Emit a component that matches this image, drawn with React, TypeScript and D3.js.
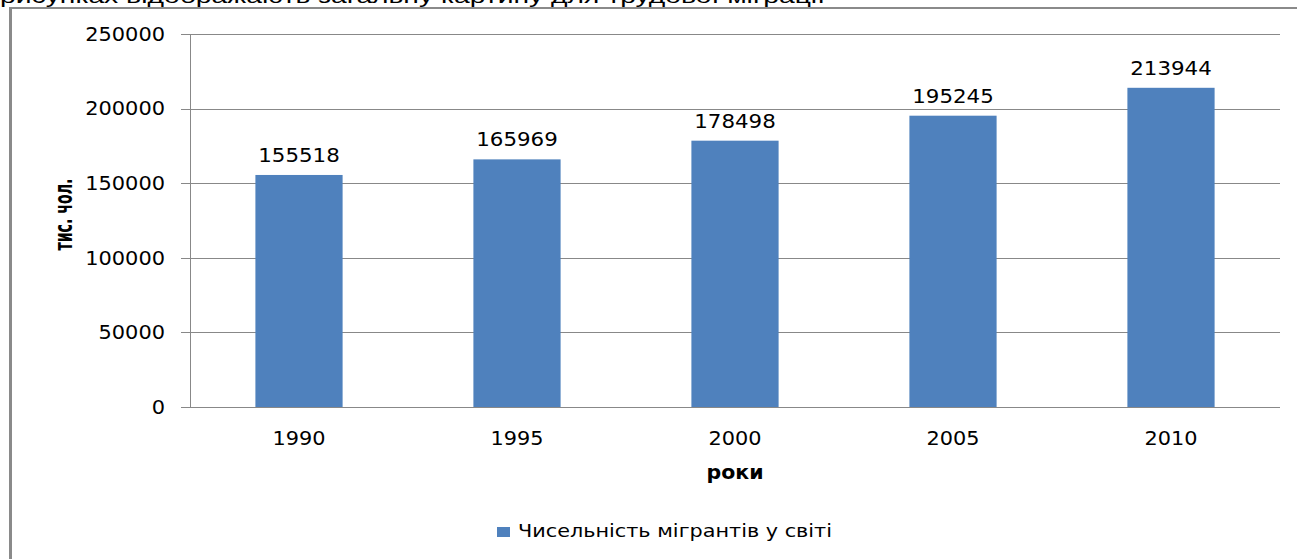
import React from "react";
import * as d3 from "d3";

const years = ["1990", "1995", "2000", "2005", "2010"];
const migrants = [155518, 165969, 178498, 195245, 213944];
const yTicks = [0, 50000, 100000, 150000, 200000, 250000];
const seriesName = "Чисельність мігрантів у світі";
const xTitle = "роки";
const yTitle = "тис. чол.";
const topText = "рисунках відображають загальну картину для трудової міграції";

const W = 1297;
const H = 559;
const plot = { left: 190, right: 1280, top: 34, bottom: 407 };
const barColor = "#4F81BD";
const gridColor = "#888888";
const font = "'DejaVu Sans', Verdana, sans-serif";

export default function App() {
  const x = d3
    .scaleBand<string>()
    .domain(years)
    .range([plot.left, plot.right])
    .paddingInner(0.6)
    .paddingOuter(0.3);
  const y = d3.scaleLinear().domain([0, 250000]).range([plot.bottom, plot.top]);

  return (
    <svg
      width={W}
      height={H}
      style={{ position: "absolute", left: 0, top: 0, background: "#fff" }}
      fontFamily={font}
    >
      <rect x={0} y={0} width={W} height={H} fill="#fff" />
      {/* cut-off text from the page above */}
      <text x={0} y={3} fontSize={21} fontFamily="'Liberation Sans', Arial, sans-serif" fill="#000" textLength={825} lengthAdjust="spacingAndGlyphs">
        {topText}
      </text>
      {/* chart frame */}
      <line x1={10.5} y1={8} x2={10.5} y2={H} stroke="#8a8a8a" strokeWidth={3} />
      <line x1={9} y1={8} x2={W} y2={8} stroke="#8a8a8a" strokeWidth={2} />

      {/* gridlines and y ticks */}
      {yTicks.map((t) => (
        <g key={t}>
          {t > 0 && (
            <line x1={plot.left} x2={plot.right} y1={Math.round(y(t)) + 0.5} y2={Math.round(y(t)) + 0.5} stroke={gridColor} strokeWidth={1} />
          )}
          <line x1={181} x2={plot.left} y1={Math.round(y(t)) + 0.5} y2={Math.round(y(t)) + 0.5} stroke={gridColor} strokeWidth={1} />
          <text
            x={165}
            y={y(t)}
            dy="0.36em"
            textAnchor="end"
            fontSize={19}
            fill="#000"
            textLength={String(t).length * 13.3}
            lengthAdjust="spacingAndGlyphs"
          >
            {t}
          </text>
        </g>
      ))}

      {/* bars */}
      {years.map((yr, i) => {
        const v = migrants[i];
        const bx = x(yr)!;
        const bw = x.bandwidth();
        return (
          <g key={yr}>
            <rect x={bx} y={y(v)} width={bw} height={plot.bottom - y(v)} fill={barColor} />
            <text
              x={bx + bw / 2}
              y={y(v) - 13}
              textAnchor="middle"
              fontSize={19}
              fill="#000"
              textLength={String(v).length * 13.6}
              lengthAdjust="spacingAndGlyphs"
            >
              {v}
            </text>
            <text
              x={bx + bw / 2}
              y={445}
              textAnchor="middle"
              fontSize={19}
              fill="#000"
              textLength={53}
              lengthAdjust="spacingAndGlyphs"
            >
              {yr}
            </text>
          </g>
        );
      })}

      {/* axes */}
      <line x1={plot.left + 0.5} x2={plot.left + 0.5} y1={plot.top} y2={plot.bottom} stroke={gridColor} strokeWidth={1} />
      <line x1={181} x2={plot.right} y1={plot.bottom + 0.5} y2={plot.bottom + 0.5} stroke={gridColor} strokeWidth={1} />

      {/* axis titles */}
      <text
        x={(plot.left + plot.right) / 2}
        y={479}
        textAnchor="middle"
        fontSize={20}
        fontWeight="bold"
        fill="#000"
        textLength={57}
        lengthAdjust="spacingAndGlyphs"
      >
        {xTitle}
      </text>
      <text
        transform={`translate(72,${(plot.top + plot.bottom) / 2 - 6}) rotate(-90)`}
        textAnchor="middle"
        fontSize={25}
        fontWeight="bold"
        fill="#000"
        textLength={72}
        lengthAdjust="spacingAndGlyphs"
      >
        {yTitle}
      </text>

      {/* legend */}
      <rect x={497} y={527} width={13} height={10} fill={barColor} />
      <text x={518} y={537} fontSize={17} fill="#000" textLength={314} lengthAdjust="spacingAndGlyphs">
        {seriesName}
      </text>
    </svg>
  );
}
